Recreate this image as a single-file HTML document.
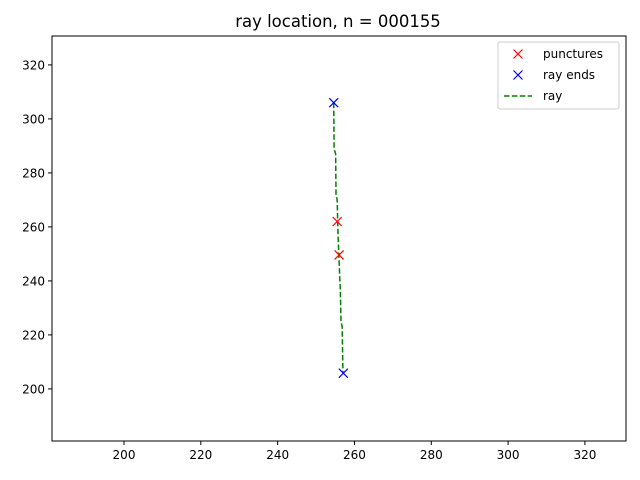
<!DOCTYPE html>
<html><head><meta charset="utf-8"><style>body{margin:0;background:#fff}svg{display:block;font-family:"DejaVu Sans","Liberation Sans",sans-serif}</style></head>
<body>
<svg id="c" width="640" height="480"></svg>
<script>
const xTicks=[200,220,240,260,280,300,320];
const yTicks=[200,220,240,260,280,300,320];
const punctureX=[255.5,256.0];
const punctureY=[262,249.6];
const endX=[254.6,257.1];
const endY=[306,205.8];
const rayX=[254.6,254.7,255.1,255.2,255.5,255.7,256.2,256.3,256.5,256.8,257.0];
const rayY=[306,289,287,272,270,258,240,238,225,223,206];
const L=52,R=626,T=36,B=441,x0=181.25,x1=330.7,y0=180.7,y1=330.7;
const sx=v=>L+(v-x0)/(x1-x0)*(R-L), sy=v=>B-(v-y0)/(y1-y0)*(B-T);
const svg=document.getElementById('c');const NS='http://www.w3.org/2000/svg';
function mk(t,a,p){const e=document.createElementNS(NS,t);for(const k in a)e.setAttribute(k,a[k]);(p||svg).appendChild(e);return e;}
let e;
e=mk('text',{x:338,y:27,'text-anchor':'middle','font-size':16.5});e.textContent='ray location, n = 000155';


e=mk('rect',{x:L,y:T,width:R-L,height:B-T,fill:'none',stroke:'#000','stroke-width':1});


xTicks.forEach(v=>{const x=sx(v);mk('line',{x1:x,x2:x,y1:B,y2:B+4,stroke:'#000'});
e=mk('text',{x:x,y:B+18,'text-anchor':'middle','font-size':12});e.textContent=v;

});
yTicks.forEach(v=>{const y=sy(v);mk('line',{x1:L-4,x2:L,y1:y,y2:y,stroke:'#000'});
e=mk('text',{x:L-7,y:y+4.5,'text-anchor':'end','font-size':12});e.textContent=v;

});
e=mk('polyline',{points:rayX.map((v,i)=>sx(v)+','+sy(rayY[i])).join(' '),fill:'none',stroke:'green','stroke-width':1.5,'stroke-dasharray':'5.5,2.4'});


function cross(x,y,c,name){const g=mk('g',{});
mk('path',{d:`M${x-4.5},${y-4.5}L${x+4.5},${y+4.5}M${x-4.5},${y+4.5}L${x+4.5},${y-4.5}`,stroke:c,'stroke-width':1.2},g);}
punctureX.forEach((v,i)=>cross(sx(v),sy(punctureY[i]),'red','puncture-marker'));
endX.forEach((v,i)=>cross(sx(v),sy(endY[i]),'blue','ray-end-marker'));
const lg=mk('g',{});
mk('rect',{x:498,y:42,width:121,height:67,rx:2,fill:'#fff',stroke:'#ccc'},lg);
cross(518,54,'red','legend-punctures-marker');cross(518,75,'blue','legend-ray-ends-marker');
mk('line',{x1:504,x2:532,y1:96,y2:96,stroke:'green','stroke-width':1.5,'stroke-dasharray':'5.5,2.4'},lg);
[['punctures',58],['ray ends',79],['ray',100]].forEach(([t,y])=>{const tx=mk('text',{x:543,y:y,'font-size':12},lg);tx.textContent=t;

});
</script>
</body></html>
